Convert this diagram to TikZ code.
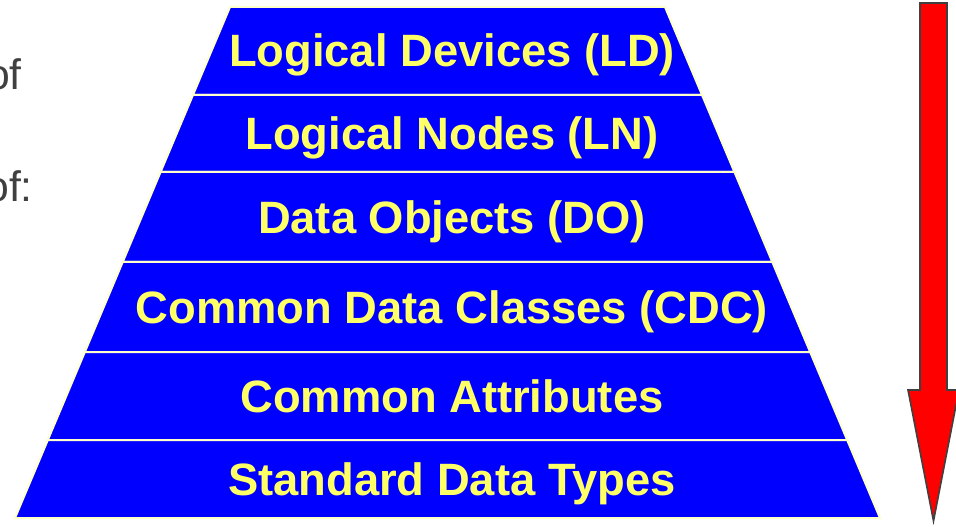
\documentclass[tikz,border=0pt]{standalone}
\usepackage{fontspec}
\setmainfont{Liberation Sans}
\usepackage{tikz}

\definecolor{pyrblue}{RGB}{0,0,255}
\definecolor{lblyellow}{RGB}{255,255,102}
\definecolor{edgecream}{RGB}{255,255,204}
\definecolor{textgray}{RGB}{64,64,64}
\definecolor{arrowred}{RGB}{255,0,0}

\begin{document}
\begin{tikzpicture}[x=0.75pt,y=-0.75pt,
        band/.style={fill=pyrblue,draw=edgecream,line width=1.5pt,line join=miter},
        lbl/.style={anchor=base,inner sep=0pt,text=lblyellow,font=\fontsize{34}{40}\selectfont\bfseries},
        sidetext/.style={anchor=base east,inner sep=0pt,text=textgray,font=\fontsize{32}{38}\selectfont}]
        \useasboundingbox (0,0) rectangle (956,527);

        % pyramid, one band per level
        \foreach \ya/\yb in {7/95,95/172,172/262,262/352,352/440,440/518}
                \draw[band] ({230-0.4207*(\ya-7)},\ya) -- ({665+0.4207*(\ya-7)},\ya) -- ({665+0.4207*(\yb-7)},\yb) -- ({230-0.4207*(\yb-7)},\yb) -- cycle;

        \node[lbl] (ld)  at (452,67)    {Logical Devices (LD)};
        \node[lbl] (ln)  at (452,150)   {Logical Nodes (LN)};
        \node[lbl] (do)  at (452,233.5) {Data Objects (DO)};
        \node[lbl] (cdc) at (452,323.5) {Common Data Classes (CDC)};
        \node[lbl] (ca)  at (452,412.5) {Common Attributes};
        \node[lbl] (sdt) at (452,495.5) {Standard Data Types};

        % cut-off text on the left
        \node[sidetext] (ofa) at (22,90)  {of};
        \node[sidetext] (ofb) at (33,202) {of:};

        % red arrow
        \draw[fill=arrowred,draw=textgray,line width=1.2pt,line join=miter] (920,3) -- (947,3) -- (947,390) -- (959,390) -- (933.5,521) -- (908,390) -- (920,390) -- cycle;
\end{tikzpicture}
\end{document}
